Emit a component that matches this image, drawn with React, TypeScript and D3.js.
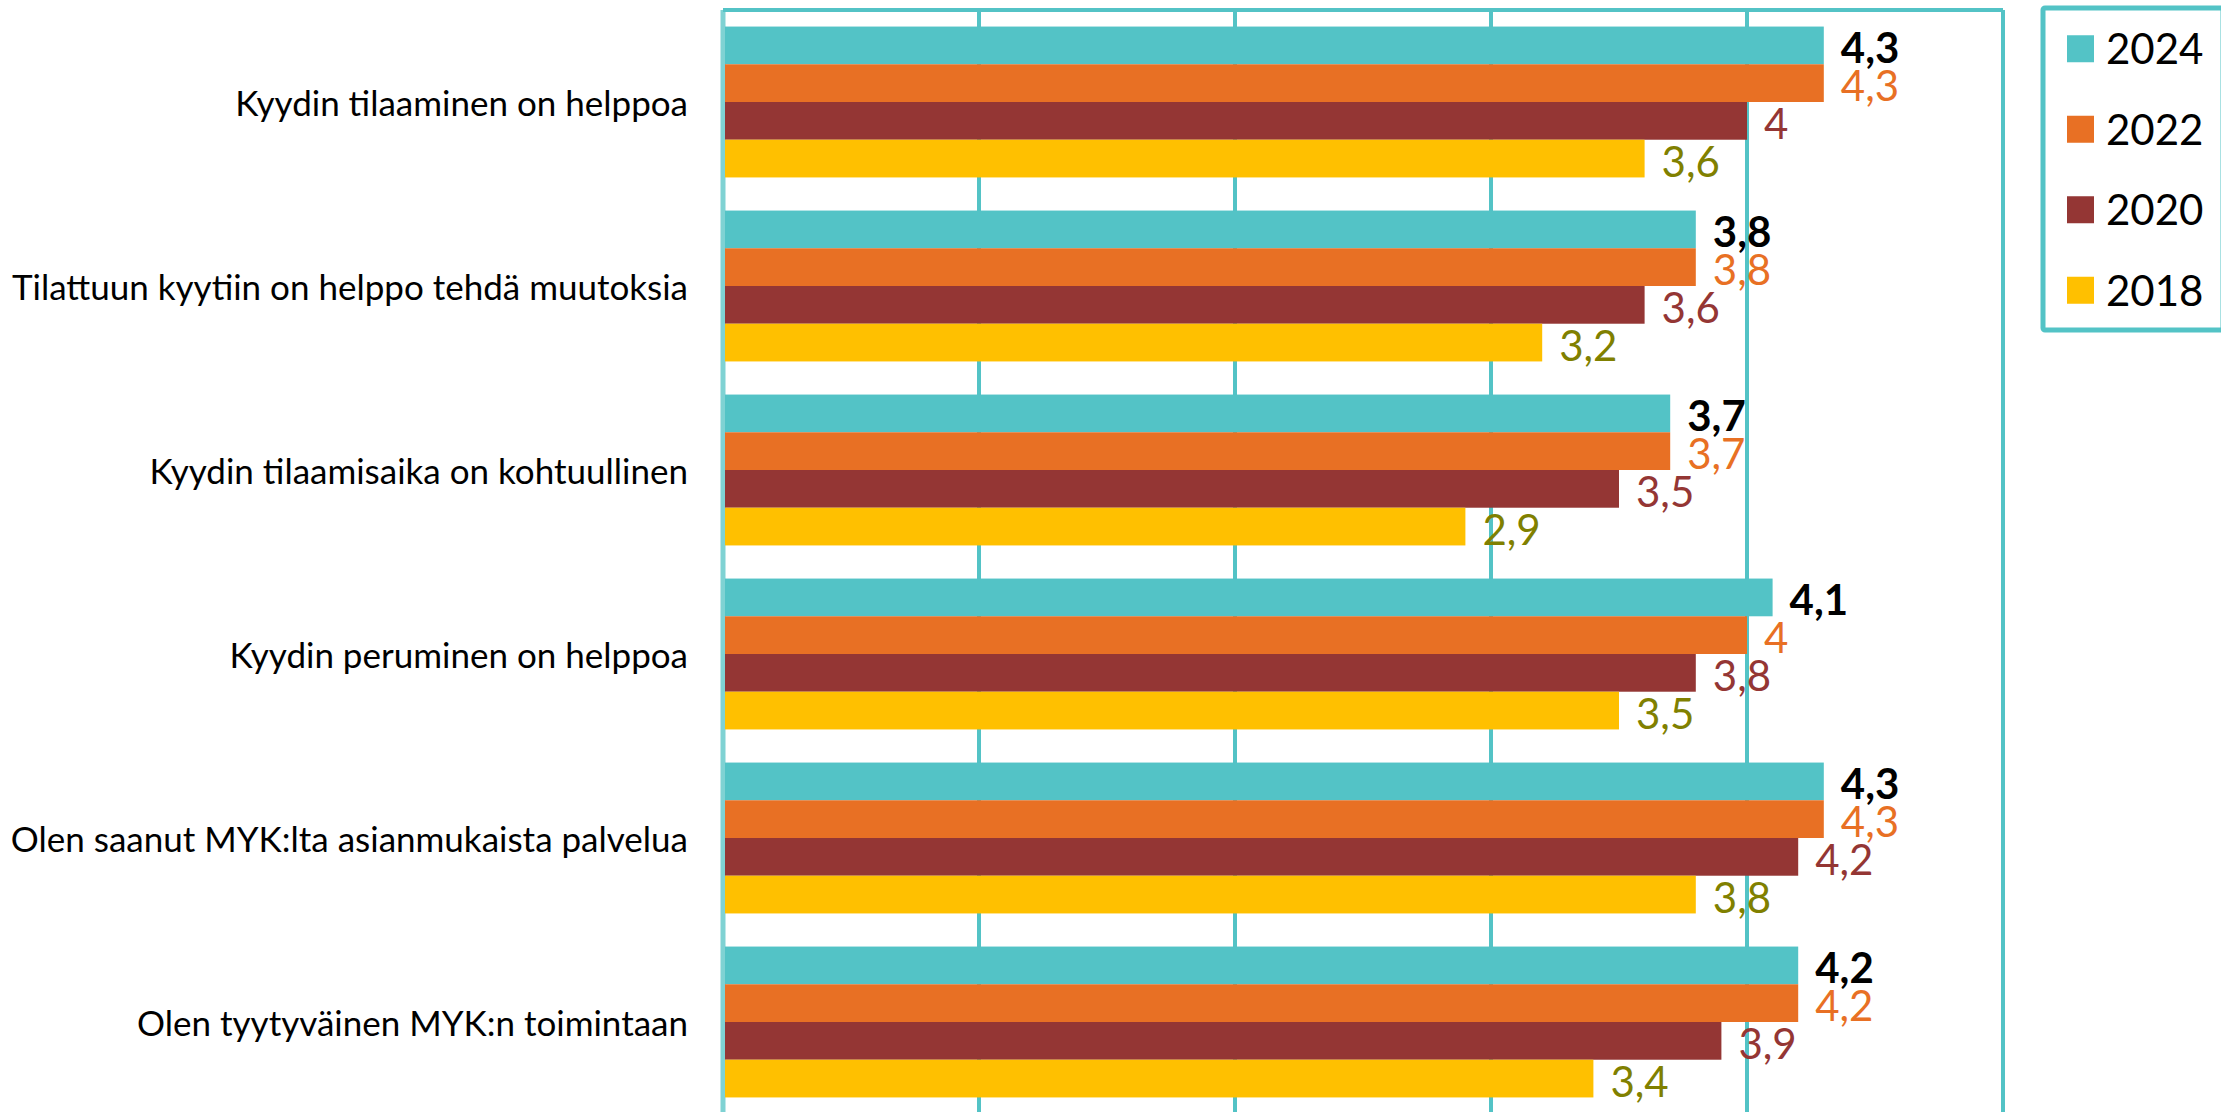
import * as d3 from 'd3';

const categories = [
  'Kyydin tilaaminen on helppoa',
  'Tilattuun kyytiin on helppo tehdä muutoksia',
  'Kyydin tilaamisaika on kohtuullinen',
  'Kyydin peruminen on helppoa',
  'Olen saanut MYK:lta asianmukaista palvelua',
  'Olen tyytyväinen MYK:n toimintaan',
];

const years = ['2024', '2022', '2020', '2018'];

const values2024 = [4.3, 3.8, 3.7, 4.1, 4.3, 4.2];
const values2022 = [4.3, 3.8, 3.7, 4, 4.3, 4.2];
const values2020 = [4, 3.6, 3.5, 3.8, 4.2, 3.9];
const values2018 = [3.6, 3.2, 2.9, 3.5, 3.8, 3.4];

const barColors = ['#53C3C6', '#E87024', '#943634', '#FFC000'];
const labelColors = ['#000000', '#E87024', '#943634', '#808000'];

const seriesValues = [values2024, values2022, values2020, values2018];

const W = 2221;
const H = 1112;
const FONT = 'Lato, "Open Sans", sans-serif';
const TEAL = '#53C3C6';

export default function App() {
  const x = d3.scaleLinear().domain([0, 5]).range([723, 2003]);
  const y = d3.scaleBand<string>().domain(categories).range([10, 1114]).paddingInner(0.18).paddingOuter(0.09);
  const inner = d3.scaleBand<string>().domain(years).range([0, y.bandwidth()]);
  const legendY = d3.scaleBand<string>().domain(years).range([8, 330]);
  const ticks = x.ticks(5);

  return (
    <svg
      width={W}
      height={H}
      style={{ position: 'absolute', left: 0, top: 0, display: 'block', background: '#fff' }}
      fontFamily={FONT}
    >
      {/* grid */}
      {ticks.map((t) => (
        <line
          key={t}
          x1={x(t)}
          x2={x(t)}
          y1={10}
          y2={H + 5}
          stroke={t === 0 ? '#7FD2D3' : TEAL}
          strokeWidth={t === 0 ? 5 : 4}
        />
      ))}
      <line x1={x(0)} x2={x(5)} y1={10} y2={10} stroke={TEAL} strokeWidth={4} />

      {/* bars */}
      {categories.map((c, ci) => (
        <g key={c} transform={`translate(0,${y(c)})`}>
          {years.map((yr, si) => (
            <rect
              key={yr}
              x={x(0) + 2}
              y={inner(yr)}
              width={x(seriesValues[si][ci]) - x(0) - 2}
              height={inner.bandwidth()}
              fill={barColors[si]}
            />
          ))}
          {years.map((yr, si) => (
            <text
              key={'l' + yr}
              x={x(seriesValues[si][ci]) + 17}
              y={(inner(yr) ?? 0) + inner.bandwidth() / 2 + 2}
              dominantBaseline="central"
              fontSize={42}
              fontWeight={si === 0 ? 700 : 400}
              fill={labelColors[si]}
            >
              {String(seriesValues[si][ci]).replace('.', ',')}
            </text>
          ))}
          <text
            x={688}
            y={y.bandwidth() / 2}
            textAnchor="end"
            dominantBaseline="central"
            fontSize={35}
            fill="#000"
          >
            {c}
          </text>
        </g>
      ))}

      {/* legend */}
      <rect x={2043} y={8} width={180} height={322} fill="#fff" stroke={TEAL} strokeWidth={5} rx={2} />
      {years.map((yr, si) => (
        <g key={yr} transform={`translate(0,${(legendY(yr) ?? 0) + legendY.bandwidth() / 2})`}>
          <rect x={2067} y={-13} width={27} height={27} fill={barColors[si]} />
          <text x={2106} y={0} dominantBaseline="central" fontSize={42} fill="#000">
            {yr}
          </text>
        </g>
      ))}
    </svg>
  );
}
